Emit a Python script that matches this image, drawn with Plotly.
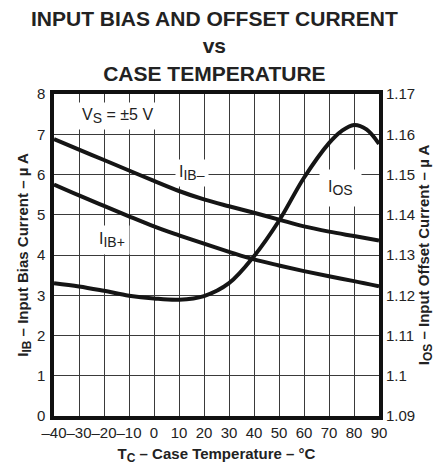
import plotly.graph_objects as go

# Case temperature (°C)
temps = [-40, -30, -20, -10, 0, 10, 20, 30, 40, 50, 60, 70, 80, 90]
# Input bias currents (µA)
ib_minus = [6.88, 6.62, 6.36, 6.10, 5.84, 5.59, 5.38, 5.21, 5.05, 4.88, 4.71, 4.58, 4.47, 4.36]
ib_plus = [5.75, 5.48, 5.22, 4.96, 4.71, 4.49, 4.28, 4.08, 3.89, 3.74, 3.60, 3.47, 3.35, 3.22]

# Input offset current (µA), right axis
ios_temps = [-40, -30, -20, -10, 0, 10, 20, 30, 40, 50, 60, 70, 75, 80, 85, 90]
ios = [1.1230, 1.1222, 1.1211, 1.1199, 1.1192, 1.1189, 1.1198, 1.1230, 1.1297,
       1.1385, 1.1492, 1.1578, 1.1608, 1.1623, 1.1612, 1.1576]

x_ticks = [-40, -30, -20, -10, 0, 10, 20, 30, 40, 50, 60, 70, 80, 90]
x_ticktext = ["\u201340", "\u201330", "\u201320", "\u201310", "0", "10", "20", "30",
              "40", "50", "60", "70", "80", "90"]
y_ticks = [0, 1, 2, 3, 4, 5, 6, 7, 8]
y2_ticks = [1.09, 1.10, 1.11, 1.12, 1.13, 1.14, 1.15, 1.16, 1.17]
y2_ticktext = ["1.09", "1.1", "1.11", "1.12", "1.13", "1.14", "1.15", "1.16", "1.17"]

FONT = "Liberation Sans, Arial, Helvetica, sans-serif"
INK = "#222"
LINE = dict(color="#151515", width=4, shape="spline", smoothing=1.0)

fig = go.Figure()
fig.add_trace(go.Scatter(x=temps, y=ib_minus, mode="lines", line=LINE, showlegend=False))
fig.add_trace(go.Scatter(x=temps, y=ib_plus, mode="lines", line=LINE, showlegend=False))
fig.add_trace(go.Scatter(x=ios_temps, y=ios, mode="lines", line=LINE, yaxis="y2",
                         showlegend=False))

axis_common = dict(
    showline=True, linecolor="#111", linewidth=3.5, mirror=True,
    ticks="", zeroline=False,
    tickfont=dict(family=FONT, size=15, color=INK),
)
title_font = dict(family=FONT, size=15, color=INK, weight="bold")


def sub(s, size=13):
    """Subscript that stays close to full size."""
    return "<sub><span style='font-size:%dpx'>%s</span></sub>" % (size, s)


fig.update_layout(
    width=440, height=473,
    margin=dict(l=54, r=59, t=94, b=51),
    paper_bgcolor="white", plot_bgcolor="white",
    font=dict(family=FONT, color=INK),
    xaxis=dict(
        range=[-40, 90], tickvals=x_ticks, ticktext=x_ticktext, tickangle=0,
        showgrid=True, gridcolor="#3a3a3a", gridwidth=1,
        title=dict(text="T" + sub("C", 12) + " \u2013 Case Temperature \u2013 \u00b0C",
                   font=title_font, standoff=10),
        **axis_common,
    ),
    yaxis=dict(
        range=[0, 8], tickvals=y_ticks, ticklabelstandoff=2,
        showgrid=True, gridcolor="#3a3a3a", gridwidth=1,
        title=dict(text="I" + sub("IB", 12) + " \u2013 Input Bias Current \u2013 \u00b5 A",
                   font=title_font, standoff=6),
        **axis_common,
    ),
    yaxis2=dict(
        range=[1.09, 1.17], tickvals=y2_ticks, ticktext=y2_ticktext,
        overlaying="y", side="right", showgrid=False, showline=False,
        ticks="", zeroline=False, ticklabelstandoff=6,
        tickfont=dict(family=FONT, size=15, color=INK),
        title=dict(text="I" + sub("OS", 12) + " \u2013 Input Offset Current \u2013 \u00b5 A",
                   font=title_font, standoff=2),
    ),
)

# Three-line heading above the plot area
fig.add_annotation(
    text="INPUT BIAS AND OFFSET CURRENT<br>vs<br>CASE TEMPERATURE",
    xref="paper", yref="paper", x=(215 - 54) / 327, y=(422 - 3) / 328,
    xanchor="center", yanchor="top", showarrow=False, align="center",
    font=dict(family=FONT, size=21, color=INK, weight="bold"),
)

ann_font = dict(family=FONT, size=16, color=INK)
fig.add_annotation(x=-14.5, y=7.45, text="V" + sub("S", 14) + " = \u00b15 V", showarrow=False,
                   font=ann_font, bgcolor="white", borderpad=3)
fig.add_annotation(x=15, y=6.03, text="I" + sub("IB\u2013", 14), showarrow=False,
                   font=ann_font, bgcolor="white", borderpad=3)
fig.add_annotation(x=-17, y=4.37, text="I" + sub("IB+", 14), showarrow=False,
                   font=ann_font, bgcolor="white", borderpad=4)
fig.add_annotation(x=74.5, y=5.66, text="I" + sub("OS", 14), showarrow=False,
                   font=ann_font, bgcolor="white", borderpad=8)

fig.write_html("out.html")
